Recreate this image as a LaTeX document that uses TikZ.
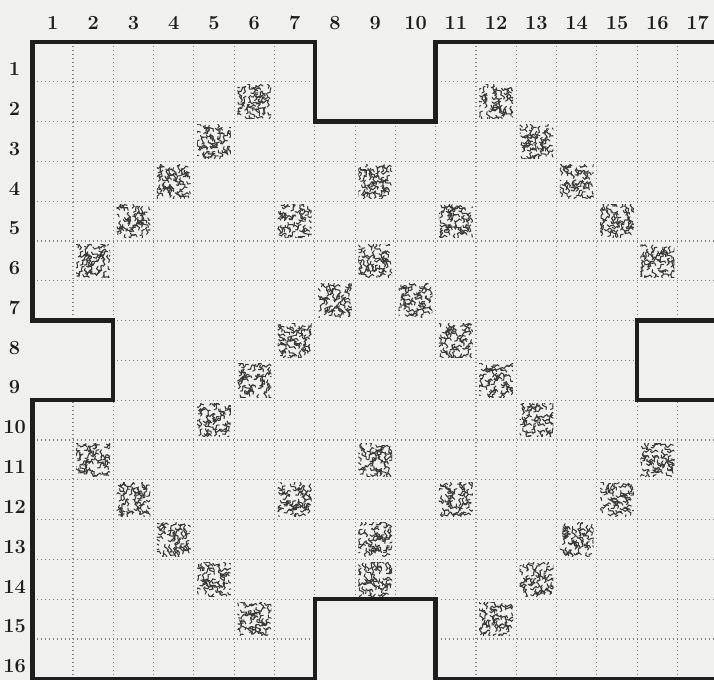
\documentclass[tikz,border=0pt]{standalone}
\usetikzlibrary{calc}
\definecolor{paper}{RGB}{240,240,238}
\definecolor{ink}{RGB}{30,30,30}
\tikzset{
  gridline/.style={draw=black!50, line width=1.1pt, dash pattern=on 1.1pt off 2.9pt},
  border/.style={draw=ink, line width=4.4pt, line join=miter},
  worm/.style={draw=black!78, line width=1.05pt, line cap=round},
  numlab/.style={font=\fontsize{20}{20}\selectfont\bfseries, text=ink, inner sep=0pt},
  stone/.pic={
    \begin{scope}
      \clip (-0.42,-0.42) rectangle (0.42,0.42);
      \foreach \i in {0,...,6}{
        \foreach \j in {0,...,6}{
          \pgfmathsetmacro\px{-0.36+0.12*\i+0.04*rand}
          \pgfmathsetmacro\py{-0.36+0.12*\j+0.04*rand}
          \pgfmathsetmacro\pa{180*rand}
          \draw[worm] (\px,\py) arc[start angle=\pa, delta angle=150, radius=1.9pt]
                      arc[start angle=\pa+330, delta angle=-150, radius=1.9pt];
        }
      }
    \end{scope}
  }
}
\begin{document}
\begin{tikzpicture}[x=40.3pt,y=-39.8pt]
  \pgfmathsetseed{7}
  \useasboundingbox (-0.8114,-1.0553) rectangle (16.906,16.03);
  \fill[paper] (-0.8114,-1.0553) rectangle (16.906,16.03);
  % dotted grid inside the region
  \begin{scope}
    \clip (0,0) -- (7,0) -- (7,2) -- (10,2) -- (10,0) -- (17.5,0) -- (17.5,7)
      -- (15,7) -- (15,9) -- (17.5,9) -- (17.5,16) -- (10,16) -- (10,14)
      -- (7,14) -- (7,16) -- (0,16) -- (0,9) -- (2,9) -- (2,7) -- (0,7) -- cycle;
    \foreach \i in {1,...,17} \draw[gridline] (\i,0) -- (\i,16);
    \foreach \j in {1,...,15} \draw[gridline] (0,\j) -- (17.5,\j);
  \end{scope}
  % stones
  \foreach \r/\c in {2/6,2/12,3/5,3/13,4/4,4/9,4/14,5/3,5/7,5/11,5/15,
      6/2,6/9,6/16,7/8,7/10,8/7,8/11,9/6,9/12,10/5,10/13,11/2,11/9,11/16,
      12/3,12/7,12/11,12/15,13/4,13/9,13/14,14/5,14/9,14/13,15/6,15/12}
    \pic at ({\c-0.5},{\r-0.5}) {stone};
  % outline
  \draw[border] (17.5,0) -- (10,0) -- (10,2) -- (7,2) -- (7,0) -- (0,0)
     -- (0,7) -- (2,7) -- (2,9) -- (0,9) -- (0,16) -- (7,16) -- (7,14)
     -- (10,14) -- (10,16) -- (17.5,16);
  \draw[border] (17.5,7) -- (15,7) -- (15,9) -- (17.5,9);
  % labels
  \foreach \k in {1,...,17} \node[numlab] (c\k) at ({\k-0.5},-0.48) {\k};
  \foreach \r in {1,...,16} \node[numlab] (r\r) at (-0.45,{\r-0.32}) {\r};
\end{tikzpicture}
\end{document}
